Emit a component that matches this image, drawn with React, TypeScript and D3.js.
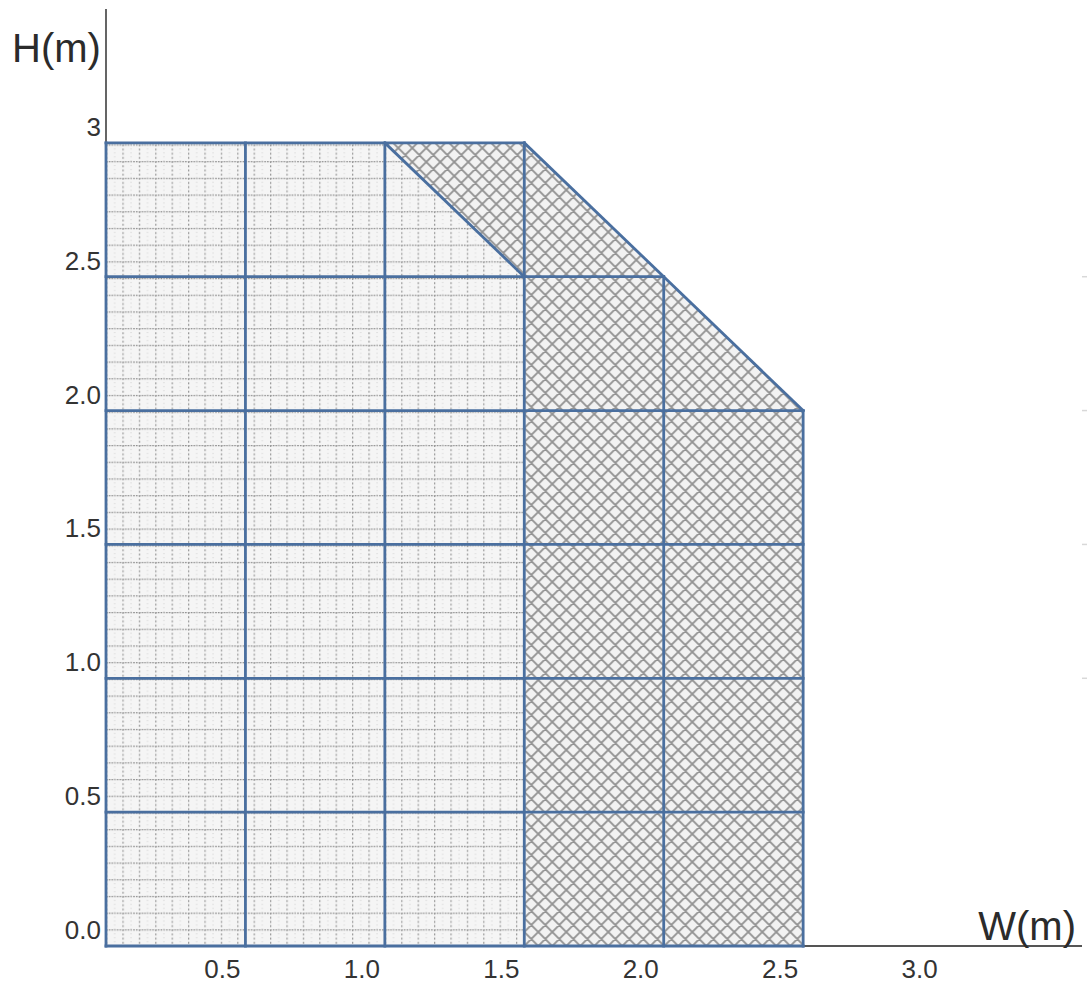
import { useRef, useEffect } from "react";
import * as d3 from "d3";

const WIDTH = 1092;
const HEIGHT = 990;
const FONT = "'Liberation Sans', Arial, sans-serif";
const BLUE = "#4a6f9f";
const AXIS = "#555";

// grid columns (x position, height of the column line)
const colEdges = [0, 0.5, 1.0, 1.5, 2.0, 2.5];
const colTops = [3.0, 3.0, 3.0, 3.0, 2.5, 2.0];
// grid rows (y position, where the row line ends)
const rowEdges = [0, 0.5, 1.0, 1.5, 2.0, 2.5, 3.0];
const rowEnds = [2.5, 2.5, 2.5, 2.5, 2.5, 2.0, 1.5];
// slanted edges [x1, y1, x2, y2]
const diagonals: [number, number, number, number][] = [
  [1.0, 3.0, 1.5, 2.5],
  [1.5, 3.0, 2.5, 2.0],
];
// filled regions
const meshRegion: [number, number][] = [
  [0, 0], [1.5, 0], [1.5, 2.5], [1.0, 3.0], [0, 3.0],
];
const hatchRegion: [number, number][] = [
  [1.5, 0], [2.5, 0], [2.5, 2.0], [1.5, 3.0], [1.0, 3.0], [1.5, 2.5],
];

const xTickValues = [0.5, 1.0, 1.5, 2.0, 2.5, 3.0];
const xTickLabels = ["0.5", "1.0", "1.5", "2.0", "2.5", "3.0"];
const yTickValues = [0, 0.5, 1.0, 1.5, 2.0, 2.5, 3.0];
const yTickLabels = ["0.0", "0.5", "1.0", "1.5", "2.0", "2.5", "3"];
const rightTickValues = [1.0, 1.5, 2.0, 2.5];

export default function App() {
  const svgRef = useRef<SVGSVGElement>(null);

  useEffect(() => {
    const svg = svgRef.current;
    if (!svg) return;
    const root = d3.select(svg);
    root.selectAll("*").remove();

    const x = d3.scaleLinear().domain([0, 3.5]).range([106, 1082]);
    const y = d3.scaleLinear().domain([0, 3.5]).range([946, 9]);

    const defs = root.append("defs");

    // fine dotted mesh
    const mw = 16.4;
    const mh = 16.7;
    const mesh = defs
      .append("pattern")
      .attr("id", "mesh")
      .attr("patternUnits", "userSpaceOnUse")
      .attr("x", x(0))
      .attr("y", y(0))
      .attr("width", mw)
      .attr("height", mh);
    mesh.append("rect").attr("width", mw).attr("height", mh).attr("fill", "#f5f5f5");
    mesh.append("line")
      .attr("x1", 0).attr("x2", mw).attr("y1", 0.6).attr("y2", 0.6)
      .attr("stroke", "#8c8c8c").attr("stroke-width", 1.3)
      .attr("stroke-dasharray", "1.6,1.1");
    mesh.append("line")
      .attr("x1", 0.6).attr("x2", 0.6).attr("y1", 0).attr("y2", mh)
      .attr("stroke", "#999").attr("stroke-width", 1.3)
      .attr("stroke-dasharray", "2,2.2");
    mesh.append("line")
      .attr("x1", 8.7).attr("x2", 8.7).attr("y1", 0).attr("y2", mh)
      .attr("stroke", "#c8c8c8").attr("stroke-width", 0.9)
      .attr("stroke-dasharray", "1,3");

    // diagonal cross hatch
    const s = 14;
    const hatch = defs
      .append("pattern")
      .attr("id", "hatch")
      .attr("patternUnits", "userSpaceOnUse")
      .attr("x", x(1.5))
      .attr("y", y(0))
      .attr("width", s)
      .attr("height", s);
    hatch.append("rect").attr("width", s).attr("height", s).attr("fill", "#f2f2f2");
    hatch.append("path")
      .attr("d", `M0,0L${s},${s}M0,${s}L${s},0M-2,${s - 2}L2,${s + 2}M${s - 2},-2L${s + 2},2M-2,2L2,-2M${s - 2},${s + 2}L${s + 2},${s - 2}`)
      .attr("stroke", "#939393")
      .attr("stroke-width", 1.9)
      .attr("fill", "none");

    const area = d3.line<[number, number]>().x((d) => x(d[0])).y((d) => y(d[1]));

    root.append("path").attr("d", area(meshRegion)! + "Z").attr("fill", "url(#mesh)");
    root.append("path").attr("d", area(hatchRegion)! + "Z").attr("fill", "url(#hatch)");

    // axes
    root.append("line")
      .attr("x1", x(0)).attr("x2", x(0)).attr("y1", y(3.5)).attr("y2", y(0))
      .attr("stroke", AXIS).attr("stroke-width", 1.8);
    root.append("line")
      .attr("x1", x(0)).attr("x2", x(3.5)).attr("y1", y(0)).attr("y2", y(0))
      .attr("stroke", AXIS).attr("stroke-width", 1.8);

    // faint right ticks
    for (const v of rightTickValues) {
      root.append("line")
        .attr("x1", x(3.5)).attr("x2", x(3.5) + 5).attr("y1", y(v)).attr("y2", y(v))
        .attr("stroke", "#d8d8d8").attr("stroke-width", 1.5);
    }

    // blue grid
    const gGrid = root.append("g").attr("stroke", BLUE).attr("stroke-width", 2.8).attr("stroke-linecap", "square");
    colEdges.forEach((c, i) => {
      gGrid.append("line")
        .attr("x1", x(c)).attr("x2", x(c)).attr("y1", y(0)).attr("y2", y(colTops[i]));
    });
    rowEdges.forEach((r, i) => {
      gGrid.append("line")
        .attr("x1", x(0)).attr("x2", x(rowEnds[i])).attr("y1", y(r)).attr("y2", y(r));
    });
    for (const [x1, y1, x2, y2] of diagonals) {
      gGrid.append("line")
        .attr("x1", x(x1)).attr("y1", y(y1)).attr("x2", x(x2)).attr("y2", y(y2));
    }

    // tick labels
    xTickValues.forEach((v, i) => {
      root.append("text")
        .attr("x", x(v) - 23)
        .attr("y", 978)
        .attr("text-anchor", "middle")
        .attr("fill", "#333")
        .attr("font-family", FONT)
        .attr("font-size", 26)
        .text(xTickLabels[i]);
    });
    yTickValues.forEach((v, i) => {
      root.append("text")
        .attr("x", 101)
        .attr("y", y(v) - 7)
        .attr("text-anchor", "end")
        .attr("fill", "#333")
        .attr("font-family", FONT)
        .attr("font-size", 26)
        .text(yTickLabels[i]);
    });

    // axis titles
    root.append("text")
      .attr("x", 12).attr("y", 62)
      .attr("fill", "#2b2b2b")
      .attr("font-family", FONT)
      .attr("font-size", 40)
      .text("H(m)");
    root.append("text")
      .attr("x", 1076).attr("y", 940)
      .attr("text-anchor", "end")
      .attr("fill", "#2b2b2b")
      .attr("font-family", FONT)
      .attr("font-size", 40)
      .text("W(m)");
  }, []);

  return (
    <div style={{ position: "absolute", left: 0, top: 0 }}>
      <svg ref={svgRef} width={WIDTH} height={HEIGHT} style={{ display: "block", background: "#fff" }} />
    </div>
  );
}
